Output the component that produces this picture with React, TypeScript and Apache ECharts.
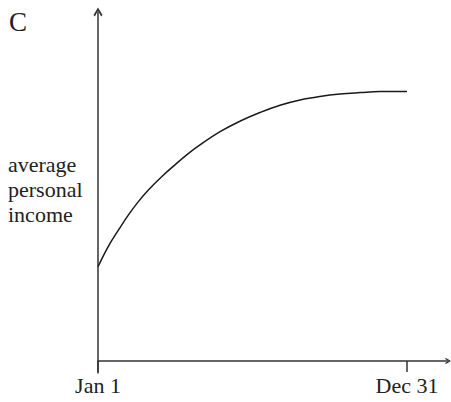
import React, { useEffect, useRef } from "react";
import * as echarts from "echarts";

// x: position through the year in percent (0 = Jan 1, 100 = Dec 31)
const timePct = [0, 3.3, 6.6, 9.8, 13.0, 16.3, 20.6, 24.9, 29.2, 33.0, 39.5, 45.9, 52.4, 58.9, 65.4, 71.8, 78.3, 84.8, 91.3, 100];
// y: average personal income (relative units)
const income = [27.0, 32.8, 37.5, 41.8, 45.6, 49.0, 52.8, 56.2, 59.4, 61.9, 65.7, 68.7, 71.2, 73.3, 74.8, 75.8, 76.5, 76.9, 77.2, 77.2];
const tickValues = [0, 100];
const tickLabels = ["Jan 1", "Dec 31"];
const yLabel = "average\npersonal\nincome";
const panelLetter = "C";

const chevron = "path://M5,0 L10,8.4 L8.5,10 L5,3.6 L1.5,10 L0,8.4 Z";
const FONT = "'Liberation Serif', 'DejaVu Serif', serif";

export default function App() {
  const ref = useRef<HTMLDivElement>(null);
  useEffect(() => {
    if (!ref.current) return;
    const chart = echarts.init(ref.current, undefined, { renderer: "svg" });
    const data = timePct.map((t, i) => [t, income[i]]);
    chart.setOption({
      animation: false,
      backgroundColor: "#ffffff",
      grid: { left: 98, right: 3, top: 12, bottom: 29, containLabel: false, outerBoundsMode: "none" },
      xAxis: {
        type: "value",
        min: 0,
        max: 113.27,
        axisLine: {
          show: true,
          onZero: true,
          symbol: ["none", chevron],
          symbolSize: [9, 6],
          lineStyle: { color: "#333", width: 1.5 },
        },
        axisTick: {
          show: true,
          customValues: tickValues,
          length: 11,
          lineStyle: { color: "#333", width: 1.5 },
        },
        axisLabel: {
          show: true,
          customValues: tickValues,
          formatter: (v: number) => tickLabels[tickValues.indexOf(v)] ?? "",
          margin: 1,
          fontFamily: FONT,
          fontSize: 22,
          color: "#222",
        },
        splitLine: { show: false },
      },
      yAxis: {
        type: "value",
        min: -3.44,
        max: 100,
        axisLine: {
          show: true,
          onZero: true,
          symbol: ["none", chevron],
          symbolSize: [9, 10],
          lineStyle: { color: "#333", width: 1.5 },
        },
        axisTick: { show: false },
        axisLabel: { show: false },
        splitLine: { show: false },
      },
      graphic: [
        {
          type: "text",
          left: 9,
          top: 8,
          style: { text: panelLetter, fontFamily: FONT, fontSize: 27, fill: "#222" },
        },
        {
          type: "text",
          x: 8,
          y: 152,
          style: {
            text: yLabel,
            fontFamily: FONT,
            fontSize: 22,
            lineHeight: 25,
            fill: "#222",
            verticalAlign: "top",
          },
        },
      ],
      series: [
        {
          type: "line",
          data,
          smooth: 0.4,
          showSymbol: false,
          lineStyle: { color: "#1a1a1a", width: 1.5 },
        },
      ],
    });
    return () => chart.dispose();
  }, []);
  return (
    <div
      ref={ref}
      style={{ position: "fixed", left: 0, top: 0, width: 451, height: 402 }}
    />
  );
}
